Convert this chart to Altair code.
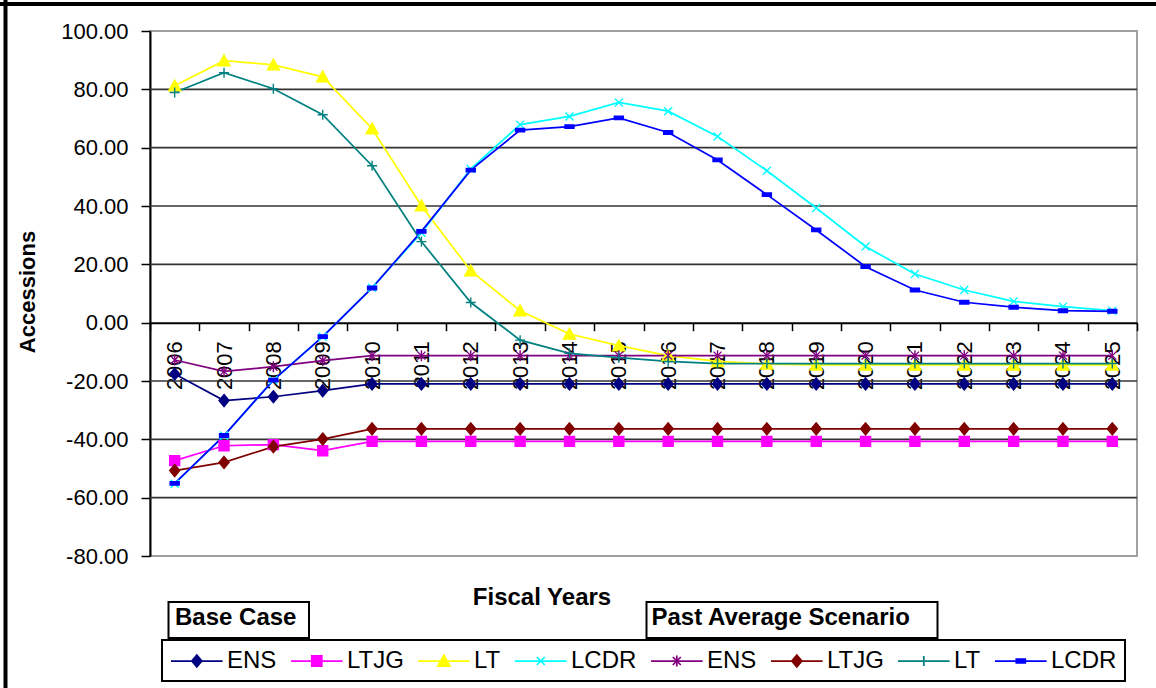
import altair as alt
import pandas as pd

# ---- chart values -------------------------------------------------------
years = ["2006", "2007", "2008", "2009", "2010", "2011", "2012", "2013", "2014", "2015",
         "2016", "2017", "2018", "2019", "2020", "2021", "2022", "2023", "2024", "2025"]

series_keys = ["Base ENS", "Base LTJG", "Base LT", "Base LCDR",
               "Past ENS", "Past LTJG", "Past LT", "Past LCDR"]

base_ens = [-17.6, -26.7, -25.4, -23.3, -21.0, -21.0, -21.0, -21.0, -21.0, -21.0,
            -21.0, -21.0, -21.0, -21.0, -21.0, -21.0, -21.0, -21.0, -21.0, -21.0]
base_ltjg = [-47.3, -42.2, -41.8, -43.9, -40.7, -40.7, -40.7, -40.7, -40.7, -40.7,
             -40.7, -40.7, -40.7, -40.7, -40.7, -40.7, -40.7, -40.7, -40.7, -40.7]
base_lt = [81.2, 89.8, 88.4, 84.3, 66.5, 40.1, 17.8, 4.1, -3.9, -7.9,
           -11.3, -13.3, -14.2, -14.5, -14.5, -14.5, -14.5, -14.5, -14.5, -14.5]
base_lcdr = [-55.2, -38.7, -19.7, -4.8, 12.0, 30.8, 52.7, 67.9, 70.7, 75.5,
             72.5, 63.8, 52.1, 39.3, 26.1, 16.7, 11.2, 7.3, 5.5, 4.1]
past_ens = [-12.8, -16.7, -15.1, -13.0, -11.3, -11.3, -11.3, -11.3, -11.3, -11.3,
            -11.3, -11.3, -11.3, -11.3, -11.3, -11.3, -11.3, -11.3, -11.3, -11.3]
past_ltjg = [-50.7, -47.9, -42.5, -39.9, -36.4, -36.4, -36.4, -36.4, -36.4, -36.4,
             -36.4, -36.4, -36.4, -36.4, -36.4, -36.4, -36.4, -36.4, -36.4, -36.4]
past_lt = [78.9, 85.7, 80.2, 71.3, 53.8, 27.8, 6.9, -6.0, -10.5, -12.0,
           -13.3, -14.0, -14.0, -14.0, -14.0, -14.0, -14.0, -14.0, -14.0, -14.0]
past_lcdr = [-55.1, -38.7, -19.7, -4.8, 11.9, 31.3, 52.3, 66.0, 67.2, 70.2,
             65.2, 55.8, 43.9, 31.8, 19.2, 11.2, 7.0, 5.3, 4.1, 3.9]

y_ticks = [-80, -60, -40, -20, 0, 20, 40, 60, 80, 100]
grid_values = [-60, -40, -20, 20, 40, 60, 80]

# ---- styling ------------------------------------------------------------
series_colors = ["#000080", "#FF00FF", "#FFFF00", "#00FFFF",
                 "#800080", "#800000", "#008080", "#0000FF"]

FONT = "Liberation Sans"

# marker outlines in unit coordinates: list of (points, closed)
marker_geom = {
    "diamond": [([(0, -1.2), (1, 0), (0, 1.2), (-1, 0)], True)],
    "square": [([(-1, -1), (1, -1), (1, 1), (-1, 1)], True)],
    "triangle": [([(0, -1.15), (1.2, 1), (-1.2, 1)], True)],
    "cross": [([(-0.8, -0.8), (0.8, 0.8)], False), ([(-0.8, 0.8), (0.8, -0.8)], False)],
    "star": [([(-0.8, -0.8), (0.8, 0.8)], False), ([(-0.8, 0.8), (0.8, -0.8)], False),
             ([(0, -1.1), (0, 1.1)], False)],
    "plus": [([(-1, 0), (1, 0)], False), ([(0, -1), (0, 1)], False)],
    "dash": [([(-0.9, -0.35), (0.9, -0.35), (0.9, 0.35), (-0.9, 0.35)], True)],
}
series_markers = ["diamond", "square", "triangle", "cross", "star", "diamond", "plus", "dash"]


def svg_path(parts, scale=1.0, dx=0.0):
    out = []
    for pts, closed in parts:
        seg = "M" + "L".join(f"{x * scale + dx:.3f},{y * scale:.3f}" for x, y in pts)
        if closed:
            seg += "Z"
        out.append(seg)
    return "".join(out)


POINT_SIZE = 100        # 5 px per unit
LEGEND_SIZE = 576       # 12 px per unit
marker_paths = [svg_path(marker_geom[m]) for m in series_markers]
# legend swatch: a short line with the marker in its middle
legend_paths = ["M-1,0L3.3,0" + svg_path(marker_geom[m], scale=5 / 12, dx=1.15)
                for m in series_markers]

# ---- data table ---------------------------------------------------------
values_by_key = dict(zip(series_keys, [base_ens, base_ltjg, base_lt, base_lcdr,
                                       past_ens, past_ltjg, past_lt, past_lcdr]))
rows = []
for k in series_keys:
    for yr, v in zip(years, values_by_key[k]):
        rows.append({"key": k, "year": yr, "value": v})
df = pd.DataFrame(rows)

W, H = 987, 525
Y_MIN, Y_MAX = -80, 100

x_enc = alt.X(
    "year:O",
    scale=alt.Scale(type="band", paddingInner=0, paddingOuter=0, domain=years),
    axis=alt.Axis(
        title=None, offset=-H * (0 - Y_MIN) / (Y_MAX - Y_MIN),
        labelAngle=270, labelAlign="right", labelBaseline="middle",
        labelFont=FONT, labelFontSize=22, labelColor="black", labelPadding=10,
        labelOverlap=False, tickBand="extent", tickSize=8, tickWidth=1.5,
        tickColor="black", domainColor="black", domainWidth=2, grid=False,
    ),
)
y_scale = alt.Scale(domain=[Y_MIN, Y_MAX], nice=False, zero=False)
y_enc = alt.Y(
    "value:Q", scale=y_scale,
    axis=alt.Axis(
        title=None, values=y_ticks,
        labelExpr="replace(format(datum.value, '.2f'), '\u2212', '-')",
        labelFont=FONT, labelFontSize=22,
        labelColor="black", labelPadding=13, tickSize=9, tickWidth=1.5,
        tickColor="black", domainColor="black", domainWidth=2, grid=False,
    ),
)

color_scale = alt.Scale(domain=series_keys, range=series_colors)

# horizontal grid rules inside the plot
grid = alt.Chart(pd.DataFrame({"value": grid_values})).mark_rule(
    color="#333333", strokeWidth=1.6
).encode(y=y_enc)

lines = alt.Chart(df).mark_line(strokeWidth=1.75).encode(
    x=x_enc, y=y_enc,
    color=alt.Color("key:N", scale=color_scale, legend=None),
)

points = alt.Chart(df).mark_point(filled=True, size=POINT_SIZE, strokeWidth=1.4, opacity=1).encode(
    x=x_enc, y=y_enc,
    fill=alt.Fill("key:N", scale=color_scale, legend=None),
    stroke=alt.Stroke("key:N", scale=color_scale, legend=None),
    shape=alt.Shape("key:N", scale=alt.Scale(domain=series_keys, range=marker_paths), legend=None),
)

legend_def = alt.Legend(
    title=None, orient="none", legendX=12, legendY=609, direction="horizontal",
    labelExpr="split(datum.label, ' ')[1]", labelFont=FONT, labelFontSize=24,
    labelColor="black", labelOffset=31, columnPadding=10, symbolSize=LEGEND_SIZE,
    symbolStrokeWidth=1.75, labelLimit=0,
)
legend_layer = alt.Chart(df).transform_filter("datum.value > 1000").mark_point(
    filled=True, size=LEGEND_SIZE, strokeWidth=1.75, opacity=1
).encode(
    fill=alt.Fill("key:N", scale=color_scale, legend=legend_def),
    stroke=alt.Stroke("key:N", scale=color_scale, legend=legend_def),
    shape=alt.Shape("key:N", scale=alt.Scale(domain=series_keys, range=legend_paths),
                    legend=legend_def),
)

# ---- titles and captions ------------------------------------------------
def caption(text, x, y, size, align="left", angle=0):
    return alt.Chart(pd.DataFrame({"t": [text]})).mark_text(
        font=FONT, fontSize=size, fontWeight="bold", color="black",
        align=align, baseline="middle", angle=angle,
    ).encode(text="t:N", x=alt.value(x), y=alt.value(y))


def box(x0, x1, y0, y1):
    return alt.Chart(pd.DataFrame({"t": [0]})).mark_rect(
        fill="white", stroke="black", strokeWidth=2
    ).encode(x=alt.value(x0), x2=alt.value(x1), y=alt.value(y0), y2=alt.value(y1))


y_title = caption("Accessions", -122, 261, 22, align="center", angle=270)
x_title = caption("Fiscal Years", 392, 567, 24, align="center")
base_box = box(18.5, 159, 571, 607)
base_text = caption("Base Case", 25, 587, 24)
past_box = box(496.5, 787.5, 571, 607)
past_text = caption("Past Average Scenario", 501.5, 587, 24)

# black frame along the top and left edges
frame_src = pd.DataFrame({"t": [0]})
frame_top = alt.Chart(frame_src).mark_rule(color="black", strokeWidth=4).encode(
    x=alt.value(-150), x2=alt.value(1006), y=alt.value(-27))
frame_left = alt.Chart(frame_src).mark_rule(color="black", strokeWidth=4).encode(
    x=alt.value(-144.5), y=alt.value(-31), y2=alt.value(657))

chart = alt.layer(
    grid, lines, points, legend_layer,
    y_title, x_title, base_box, base_text, past_box, past_text,
    frame_top, frame_left,
).resolve_scale(
    fill="independent", stroke="independent", shape="independent"
).properties(
    width=W, height=H,
    autosize=alt.AutoSizeParams(type="none"),
    padding={"left": 150, "top": 31, "right": 1156 - 150 - W, "bottom": 688 - 31 - H},
    background="white",
).configure_view(
    stroke="#a0a0a0", strokeWidth=2
).configure_legend(
    strokeColor="black", strokeWidth=2, fillColor="white", padding=8,
    cornerRadius=0, rowPadding=0,
)

chart.save("out.html", embed_options={"renderer": "svg", "actions": False})
